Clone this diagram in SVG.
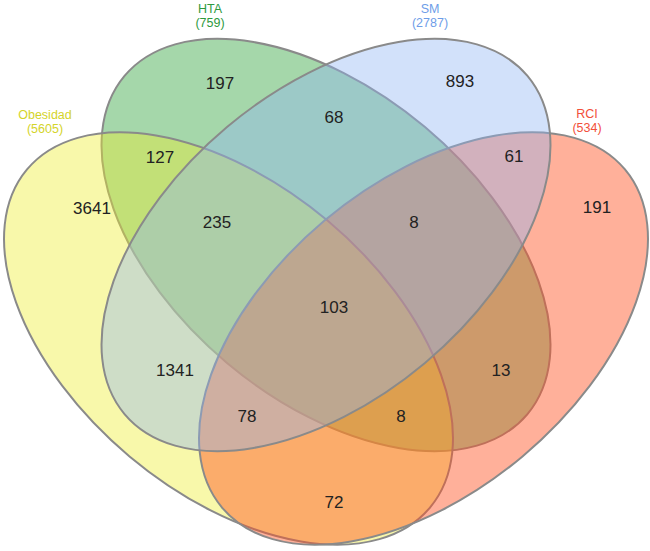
<svg xmlns="http://www.w3.org/2000/svg" width="650" height="551" viewBox="0 0 650 551">
<style>
.e{stroke:#8a8a8a;stroke-width:2}
.n{font-family:"Liberation Sans",Arial,sans-serif;font-size:17px;fill:#222;text-anchor:middle}
.l{font-family:"Liberation Sans",Arial,sans-serif;font-size:12.5px;text-anchor:middle}
</style>
<rect width="650" height="551" fill="#ffffff"/>
<g id="HTA"><ellipse class="e" cx="326" cy="245" rx="263" ry="154" transform="rotate(40 326 245)" fill="#1E9B2A" fill-opacity="0.4"/></g>
<g id="Obesidad"><ellipse class="e" cx="228.5" cy="338.5" rx="263" ry="154" transform="rotate(40 228.5 338.5)" fill="#EEEE2A" fill-opacity="0.4"/></g>
<g id="RCI"><ellipse class="e" cx="423.5" cy="338.5" rx="263" ry="154" transform="rotate(-40 423.5 338.5)" fill="#FF501E" fill-opacity="0.45"/></g>
<g id="SM"><ellipse class="e" cx="326" cy="245" rx="263" ry="154" transform="rotate(-40 326 245)" fill="#8EB4F2" fill-opacity="0.4"/></g>
<g id="labels">
<text class="l" x="45" y="119" fill="#D4D42A">Obesidad</text>
<text class="l" x="45" y="133" fill="#D4D42A">(5605)</text>
<text class="l" x="210" y="13" fill="#2E9A3E">HTA</text>
<text class="l" x="210" y="27" fill="#2E9A3E">(759)</text>
<text class="l" x="430" y="13" fill="#6E9DE8">SM</text>
<text class="l" x="430" y="27" fill="#6E9DE8">(2787)</text>
<text class="l" x="587" y="118" fill="#F2503A">RCI</text>
<text class="l" x="587" y="132" fill="#F2503A">(534)</text>
</g>
<g id="counts">
<text class="n" x="220" y="89">197</text>
<text class="n" x="460" y="87">893</text>
<text class="n" x="334" y="123">68</text>
<text class="n" x="160" y="163">127</text>
<text class="n" x="514" y="162">61</text>
<text class="n" x="92" y="214">3641</text>
<text class="n" x="217" y="228">235</text>
<text class="n" x="414" y="228">8</text>
<text class="n" x="597" y="213">191</text>
<text class="n" x="334" y="313">103</text>
<text class="n" x="175" y="376">1341</text>
<text class="n" x="501" y="376">13</text>
<text class="n" x="247" y="422">78</text>
<text class="n" x="401" y="422">8</text>
<text class="n" x="334" y="508">72</text>
</g>
</svg>
